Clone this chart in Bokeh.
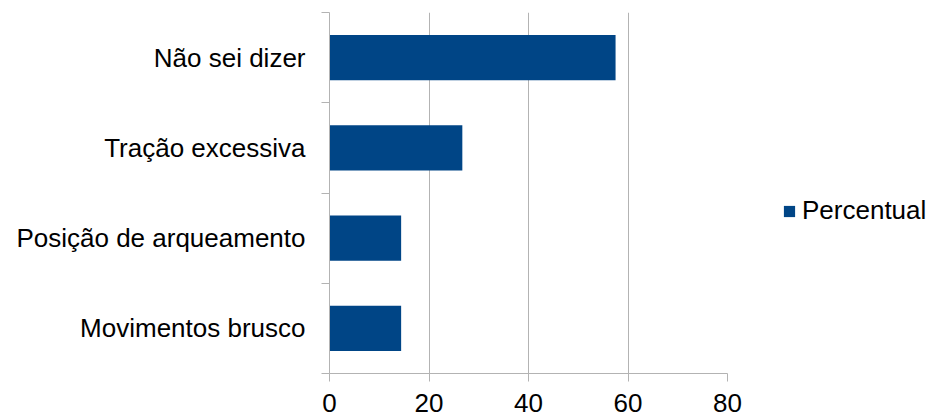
from bokeh.plotting import figure
from bokeh.models import FixedTicker, Legend, LegendItem, ColumnDataSource
from bokeh.embed import file_html
from bokeh.resources import INLINE

categories = ["Não sei dizer", "Tração excessiva", "Posição de arqueamento", "Movimentos brusco"]
percentual = [57.5, 26.7, 14.4, 14.4]
x_ticks = [0, 20, 40, 60, 80]

n = len(categories)
# position from the bottom: last category at the bottom
ypos = [n - 1 - i + 0.5 for i in range(n)]
src = ColumnDataSource(dict(y=ypos, v=percentual, cat=categories))

GRAY = "#b3b3b3"
BLUE = "#004586"
FONT = "Liberation Sans"
FS = "26px"

p = figure(frame_width=398, frame_height=361, output_backend="svg", toolbar_location=None,
           x_range=(0, 80), y_range=(0, n),
           min_border_left=329, min_border_right=206, min_border_top=12, min_border_bottom=44)
p.outline_line_color = None
p.background_fill_color = "white"

r = p.hbar(y="y", right="v", left=0, height=0.5, source=src, fill_color=BLUE, line_color=None)

# x axis
p.xaxis.ticker = FixedTicker(ticks=x_ticks)
p.xaxis.axis_line_color = GRAY
p.xaxis.major_tick_line_color = GRAY
p.xaxis.major_tick_out = 8
p.xaxis.major_tick_in = 0
p.xaxis.minor_tick_line_color = None
p.xaxis.major_label_text_font = FONT
p.xaxis.major_label_text_font_size = FS
p.xaxis.major_label_text_color = "black"
p.xaxis.major_label_standoff = 12

# y axis: labels at band centres, tick marks at band boundaries
p.yaxis.ticker = FixedTicker(ticks=ypos, minor_ticks=list(range(n + 1)))
p.yaxis.major_label_overrides = {y: c for y, c in zip(ypos, categories)}
p.yaxis.major_tick_line_color = None
p.yaxis.minor_tick_line_color = GRAY
p.yaxis.minor_tick_out = 8
p.yaxis.minor_tick_in = 0
p.yaxis.axis_line_color = GRAY
p.yaxis.major_label_text_font = FONT
p.yaxis.major_label_text_font_size = FS
p.yaxis.major_label_text_color = "black"
p.yaxis.major_label_standoff = 16

p.xgrid.ticker = FixedTicker(ticks=x_ticks)
p.xgrid.grid_line_color = GRAY
p.ygrid.ticker = FixedTicker(ticks=[n])
p.ygrid.grid_line_color = GRAY

legend = Legend(items=[LegendItem(label="Percentual", renderers=[r])],
                location=(55, 147), border_line_color=None, background_fill_alpha=0,
                label_text_font=FONT, label_text_font_size=FS, label_text_color="black",
                glyph_width=14, glyph_height=14, label_standoff=6, margin=0, padding=0)
p.add_layout(legend, "right")

open("out.html", "w").write(file_html(p, INLINE))
